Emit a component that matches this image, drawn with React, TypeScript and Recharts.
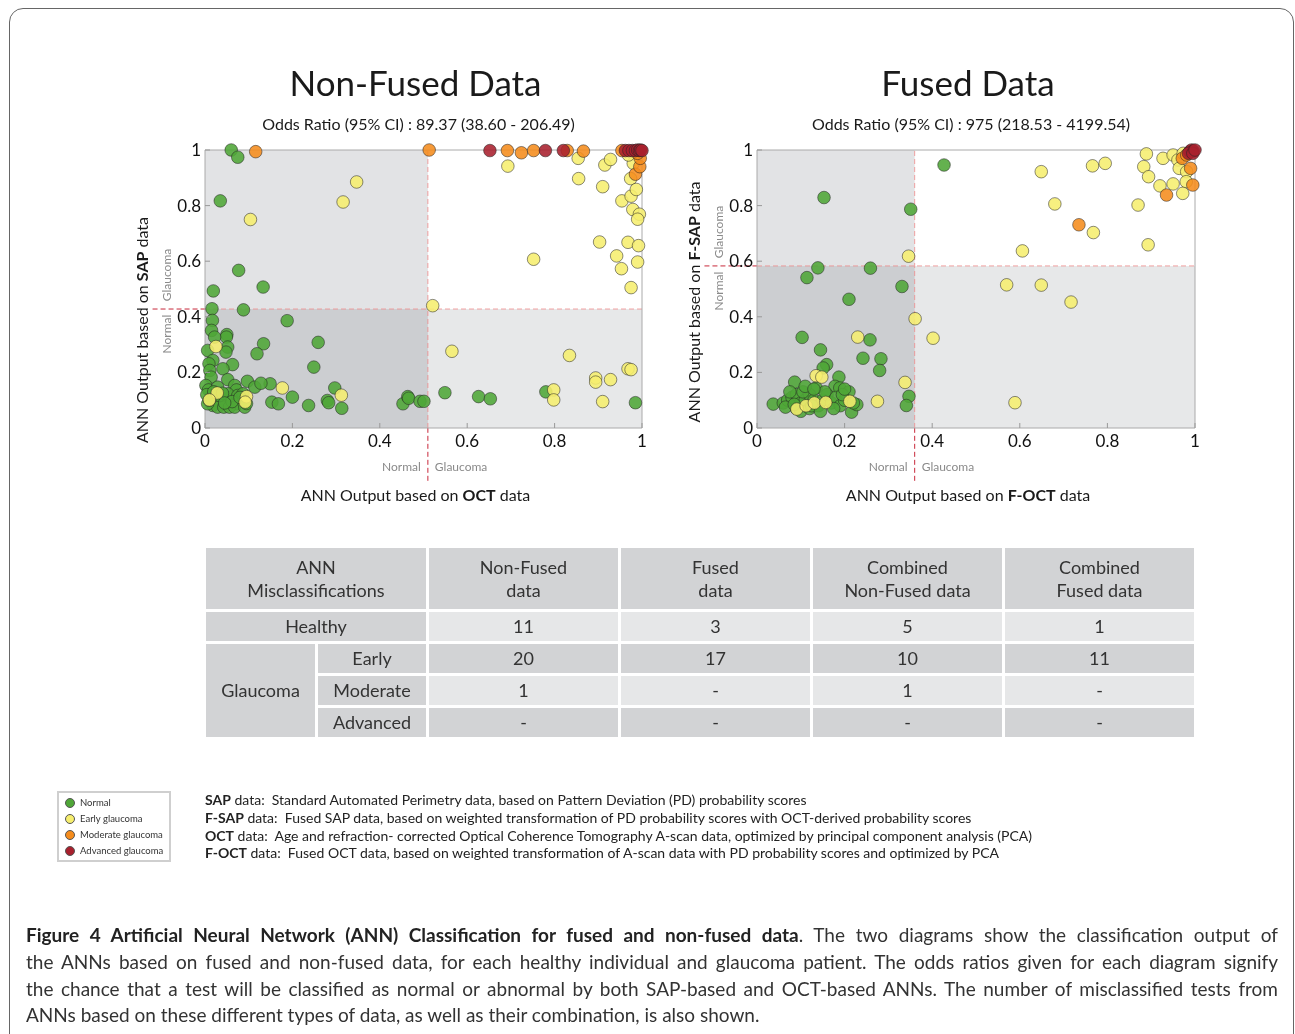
import React from 'react'
import { ReferenceArea, ReferenceLine, Scatter, ScatterChart, XAxis, YAxis } from 'recharts'

const FONT = 'Lato, "Open Sans", sans-serif'

const axisTicks = [0, 0.2, 0.4, 0.6, 0.8, 1]

// cut-offs between "Normal" and "Glaucoma"
const nonFusedCut = { x: 0.51, y: 0.428 }
const fusedCut = { x: 0.36, y: 0.583 }

type Pt = [number, number]

const nonFusedNormal: Pt[] = [
  [0.06, 1.0], [0.075, 0.974], [0.035, 0.817], [0.077, 0.567], [0.133, 0.507], [0.019, 0.493],
  [0.016, 0.429], [0.088, 0.425], [0.017, 0.387], [0.188, 0.386], [0.015, 0.351], [0.05, 0.336],
  [0.049, 0.327], [0.022, 0.327], [0.134, 0.303], [0.259, 0.308], [0.052, 0.291], [0.006, 0.279],
  [0.119, 0.267], [0.048, 0.273], [0.018, 0.243], [0.063, 0.228], [0.009, 0.231], [0.249, 0.219],
  [0.011, 0.207], [0.041, 0.213], [0.014, 0.183], [0.052, 0.174], [0.097, 0.168], [0.114, 0.147],
  [0.149, 0.159], [0.128, 0.161], [0.002, 0.153], [0.008, 0.137], [0.029, 0.147], [0.068, 0.153],
  [0.072, 0.137], [0.014, 0.111], [0.025, 0.099], [0.037, 0.087], [0.049, 0.105], [0.06, 0.111],
  [0.072, 0.087], [0.083, 0.099], [0.018, 0.081], [0.029, 0.075], [0.043, 0.075], [0.056, 0.075],
  [0.068, 0.075], [0.091, 0.075], [0.006, 0.087], [0.033, 0.117], [0.052, 0.123], [0.075, 0.117],
  [0.087, 0.123], [0.004, 0.12], [0.02, 0.13], [0.04, 0.125], [0.062, 0.095], [0.08, 0.11],
  [0.01, 0.1], [0.045, 0.09], [0.095, 0.088], [0.297, 0.144], [0.2, 0.111], [0.153, 0.093],
  [0.168, 0.087], [0.237, 0.081], [0.28, 0.099], [0.283, 0.091], [0.313, 0.071], [0.453, 0.087],
  [0.464, 0.113], [0.466, 0.107], [0.492, 0.096], [0.501, 0.096], [0.549, 0.127], [0.626, 0.113],
  [0.653, 0.105], [0.78, 0.13], [0.985, 0.091],
]
const nonFusedEarly: Pt[] = [
  [0.104, 0.75], [0.347, 0.885], [0.316, 0.813], [0.025, 0.293], [0.028, 0.126], [0.01, 0.101],
  [0.095, 0.113], [0.092, 0.093], [0.177, 0.144], [0.312, 0.118], [0.521, 0.44], [0.565, 0.276],
  [0.834, 0.261], [0.798, 0.137], [0.798, 0.101], [0.894, 0.18], [0.894, 0.165], [0.928, 0.174],
  [0.91, 0.095], [0.968, 0.213], [0.975, 0.21], [0.693, 0.942], [0.752, 0.607], [0.854, 0.97],
  [0.855, 0.897], [0.915, 0.946], [0.928, 0.966], [0.91, 0.868], [0.974, 0.897], [0.954, 0.817],
  [0.975, 0.834], [0.987, 0.858], [0.979, 0.786], [0.994, 0.769], [0.99, 0.751], [0.903, 0.669],
  [0.968, 0.668], [0.992, 0.656], [0.942, 0.619], [0.99, 0.597], [0.953, 0.573], [0.975, 0.505],
  [0.98, 0.952], [0.969, 0.982],
]
const nonFusedModerate: Pt[] = [
  [0.116, 0.994], [0.513, 1.0], [0.692, 0.998], [0.724, 0.99], [0.752, 0.998], [0.829, 0.998],
  [0.866, 0.996], [0.985, 0.913], [0.995, 0.94], [0.996, 0.97], [0.99, 0.988], [0.954, 0.998],
]
const nonFusedAdvanced: Pt[] = [
  [0.652, 0.998], [0.779, 0.998], [0.82, 0.998], [0.962, 0.998], [0.97, 0.998], [0.978, 0.998],
  [0.985, 0.998], [0.99, 1.0], [0.994, 0.998], [0.997, 1.0], [1.0, 0.998],
]

const fusedNormal: Pt[] = [
  [0.427, 0.946], [0.153, 0.829], [0.351, 0.787], [0.139, 0.576], [0.259, 0.575], [0.114, 0.541],
  [0.331, 0.509], [0.21, 0.463], [0.103, 0.326], [0.258, 0.317], [0.145, 0.281], [0.242, 0.251],
  [0.283, 0.249], [0.28, 0.207], [0.159, 0.228], [0.151, 0.216], [0.086, 0.165], [0.187, 0.183],
  [0.135, 0.144], [0.178, 0.15], [0.189, 0.144], [0.347, 0.114], [0.341, 0.081], [0.037, 0.086],
  [0.216, 0.057], [0.228, 0.084], [0.06, 0.09], [0.07, 0.1], [0.08, 0.11], [0.09, 0.12],
  [0.1, 0.09], [0.11, 0.1], [0.12, 0.12], [0.13, 0.1], [0.09, 0.07], [0.1, 0.06], [0.12, 0.07],
  [0.14, 0.08], [0.15, 0.1], [0.16, 0.12], [0.17, 0.09], [0.18, 0.11], [0.19, 0.08], [0.2, 0.1],
  [0.21, 0.13], [0.22, 0.09], [0.065, 0.075], [0.085, 0.085], [0.105, 0.13], [0.125, 0.08],
  [0.145, 0.06], [0.155, 0.13], [0.175, 0.07], [0.195, 0.12], [0.11, 0.15], [0.2, 0.14],
  [0.075, 0.13], [0.13, 0.14],
]
const fusedEarly: Pt[] = [
  [0.889, 0.986], [0.883, 0.94], [0.894, 0.904], [0.927, 0.97], [0.95, 0.982], [0.961, 0.964],
  [0.973, 0.988], [0.964, 0.934], [0.981, 0.922], [0.98, 0.886], [0.92, 0.871], [0.95, 0.878],
  [0.972, 0.844], [0.766, 0.943], [0.795, 0.952], [0.649, 0.922], [0.68, 0.806], [0.87, 0.802],
  [0.768, 0.703], [0.893, 0.659], [0.606, 0.637], [0.346, 0.618], [0.57, 0.515], [0.649, 0.514],
  [0.717, 0.453], [0.361, 0.393], [0.402, 0.323], [0.23, 0.327], [0.135, 0.188], [0.148, 0.183],
  [0.338, 0.164], [0.275, 0.096], [0.589, 0.091], [0.091, 0.068], [0.112, 0.08], [0.131, 0.09],
  [0.157, 0.092], [0.212, 0.096],
]
const fusedModerate: Pt[] = [
  [0.735, 0.731], [0.935, 0.838], [0.995, 0.874], [0.99, 0.934], [0.971, 0.97], [0.981, 0.982],
]
const fusedAdvanced: Pt[] = [
  [0.988, 0.994], [0.992, 1.0], [0.996, 0.996], [0.985, 0.988], [0.995, 0.988], [1.0, 1.0],
]

const groupNames = ['Normal', 'Early glaucoma', 'Moderate glaucoma', 'Advanced glaucoma']
const groupColors = ['#4fa637', '#f6ee6e', '#f58c1c', '#a8202d']

const tableHeaders = ['ANN\nMisclassifications', 'Non-Fused\ndata', 'Fused\ndata', 'Combined\nNon-Fused data', 'Combined\nFused data']
const healthyRow = ['11', '3', '5', '1']
const earlyRow = ['20', '17', '10', '11']
const moderateRow = ['1', '-', '1', '-']
const advancedRow = ['-', '-', '-', '-']

const fmt = (v: number) => (v === 0 ? '0' : v === 1 ? '1' : v.toFixed(1))

const BottomTick = (p: any) => (
  <g>
    <line x1={p.x} x2={p.x} y1={p.y - 4} y2={p.y - 9} stroke="#999" />
    <text x={p.x} y={p.y + 15} textAnchor="middle" fontSize={17} fill="#111" fontFamily={FONT}>
      {fmt(p.payload.value)}
    </text>
  </g>
)
const LeftTick = (p: any) => (
  <g>
    <line x1={p.x + 4} x2={p.x + 9} y1={p.y} y2={p.y} stroke="#999" />
    <text x={p.x} y={p.y + 6} textAnchor="end" fontSize={17} fill="#111" fontFamily={FONT}>
      {fmt(p.payload.value)}
    </text>
  </g>
)
const TopTick = (p: any) => <line x1={p.x} x2={p.x} y1={p.y} y2={p.y + 5} stroke="#999" />
const RightTick = (p: any) => <line x1={p.x} x2={p.x - 5} y1={p.y} y2={p.y} stroke="#999" />

const dot = (color: string) => (p: any) => (
  <circle cx={p.cx} cy={p.cy} r={6.3} fill={color} fillOpacity={0.88} stroke="#222" strokeOpacity={0.65} strokeWidth={0.8} />
)

const Txt = ({ x, y, size, children, color = '#222', weight = 400, rotate = false, align = 'center', pre = false }: any) => {
  const tx = align === 'center' ? '-50%' : align === 'right' ? '-100%' : '0'
  return (
    <div
      style={{
        position: 'absolute',
        left: x,
        top: y,
        fontSize: size,
        color,
        fontWeight: weight,
        whiteSpace: pre ? 'pre' : 'nowrap',
        lineHeight: 1,
        transform: `translate(${tx}, -50%)${rotate ? ' rotate(-90deg)' : ''}`,
        transformOrigin: rotate ? '50% 50%' : undefined,
      }}
    >
      {children}
    </div>
  )
}

interface PlotProps {
  plotLeft: number
  plotWidth: number
  cut: { x: number; y: number }
  series: Pt[][]
}

function Plot({ plotLeft, plotWidth, cut, series }: PlotProps) {
  // plot area: 80 from left, 50 from top, 40 right, 100 bottom (margins + axis sizes)
  const m = { top: 49, right: 39, bottom: 70, left: 50 }
  return (
    <div style={{ position: 'absolute', left: plotLeft - 80, top: 100 }}>
      <ScatterChart width={80 + plotWidth + 40} height={50 + 278 + 100} margin={m}>
        <XAxis
          dataKey="x"
          type="number"
          domain={[0, 1]}
          ticks={axisTicks}
          height={30}
          tickSize={0}
          tickMargin={4}
          tick={BottomTick}
          tickLine={false}
          axisLine={{ stroke: '#aaa' }}
          interval={0}
        />
        <XAxis xAxisId="top" orientation="top" type="number" domain={[0, 1]} ticks={axisTicks} height={1} tickSize={0} tickMargin={0} tick={TopTick} tickLine={false} axisLine={{ stroke: '#aaa' }} interval={0} />
        <YAxis
          dataKey="y"
          type="number"
          domain={[0, 1]}
          ticks={axisTicks}
          width={30}
          tickSize={0}
          tickMargin={4}
          tick={LeftTick}
          tickLine={false}
          axisLine={{ stroke: '#aaa' }}
          interval={0}
        />
        <YAxis yAxisId="right" orientation="right" type="number" domain={[0, 1]} ticks={axisTicks} width={1} tickSize={0} tickMargin={0} tick={RightTick} tickLine={false} axisLine={{ stroke: '#aaa' }} interval={0} />
        {series.map((pts, i) => (
          <Scatter
            key={groupNames[i]}
            name={groupNames[i]}
            data={pts.map(([x, y]) => ({ x, y }))}
            shape={dot(groupColors[i])}
            isAnimationActive={false}
          />
        ))}
        <ReferenceArea className="blend-area" x1={0} x2={cut.x} y1={0} y2={1} fill="#e2e3e5" fillOpacity={1} stroke="none" ifOverflow="visible" />
        <ReferenceArea className="blend-area" x1={0} x2={1} y1={0} y2={cut.y} fill="#e7e8e9" fillOpacity={1} stroke="none" ifOverflow="visible" />
        <ReferenceLine segment={[{ x: 0, y: cut.y }, { x: 1, y: cut.y }]} stroke="#ee8a8a" strokeOpacity={0.8} strokeDasharray="5 3" ifOverflow="visible" />
        <ReferenceLine segment={[{ x: cut.x, y: 0 }, { x: cut.x, y: 1 }]} stroke="#ee8a8a" strokeOpacity={0.8} strokeDasharray="5 3" ifOverflow="visible" />
        <ReferenceLine segment={[{ x: -0.12, y: cut.y }, { x: 0, y: cut.y }]} stroke="#c8283a" strokeDasharray="5 3" ifOverflow="visible" />
        <ReferenceLine segment={[{ x: cut.x, y: -0.19 }, { x: cut.x, y: 0 }]} stroke="#c8283a" strokeDasharray="5 3" ifOverflow="visible" />
      </ScatterChart>
    </div>
  )
}

function Panel({ plotLeft, plotWidth, cut, series, title, odds, xBold, yBold, yLabelY }: any) {
  const cx = plotLeft + plotWidth / 2 - 5
  const cutX = plotLeft + cut.x * plotWidth
  const cutY = 428 - cut.y * 278
  return (
    <>
      <Txt x={cx - 3} y={82} size={35} color="#1a1a1a">{title}</Txt>
      <Txt x={cx} y={124} size={16} color="#1a1a1a">{odds}</Txt>
      <Plot plotLeft={plotLeft} plotWidth={plotWidth} cut={cut} series={series} />
      <Txt x={cx - 3} y={495} size={16} color="#1a1a1a">
        ANN Output based on <b>{xBold}</b> data
      </Txt>
      <Txt x={plotLeft - 63} y={yLabelY} size={16} color="#1a1a1a" rotate>
        ANN Output based on <b>{yBold}</b> data
      </Txt>
      <Txt x={cutX - 7} y={467} size={12} color="#8a8a8a" align="right">Normal</Txt>
      <Txt x={cutX + 7} y={467} size={12} color="#8a8a8a" align="left">Glaucoma</Txt>
      <Txt x={plotLeft - 38} y={cutY + 25} size={12} color="#8a8a8a" rotate>Normal</Txt>
      <Txt x={plotLeft - 38} y={cutY - 34} size={12} color="#8a8a8a" rotate>Glaucoma</Txt>
    </>
  )
}

const DARK = '#d2d3d5'
const LIGHT = '#e6e7e8'

function Cell({ children, bg, col, row, colSpan = 1, rowSpan = 1 }: any) {
  return (
    <div
      style={{
        gridColumn: `${col} / span ${colSpan}`,
        gridRow: `${row} / span ${rowSpan}`,
        background: bg,
        display: 'flex',
        alignItems: 'center',
        justifyContent: 'center',
        textAlign: 'center',
        whiteSpace: 'pre-line',
        lineHeight: '23px',
      }}
    >
      {children}
    </div>
  )
}

function MisclassTable() {
  const valueRows = [healthyRow, earlyRow, moderateRow, advancedRow]
  return (
    <div
      style={{
        position: 'absolute',
        left: 206,
        top: 548,
        display: 'grid',
        gridTemplateColumns: '109px 108px 189px 189px 189px 189px',
        gridTemplateRows: '61px 29px 29px 29px 29px',
        gap: 3,
        fontSize: 18,
        color: '#333',
      }}
    >
      <Cell col={1} row={1} colSpan={2} bg={DARK}>{tableHeaders[0]}</Cell>
      {tableHeaders.slice(1).map((h, i) => (
        <Cell key={h} col={3 + i} row={1} bg={DARK}>{h}</Cell>
      ))}
      <Cell col={1} row={2} colSpan={2} bg={DARK}>Healthy</Cell>
      <Cell col={1} row={3} rowSpan={3} bg={DARK}>Glaucoma</Cell>
      <Cell col={2} row={3} bg={DARK}>Early</Cell>
      <Cell col={2} row={4} bg={DARK}>Moderate</Cell>
      <Cell col={2} row={5} bg={DARK}>Advanced</Cell>
      {valueRows.map((r, ri) =>
        r.map((v, ci) => (
          <Cell key={`${ri}-${ci}`} col={3 + ci} row={2 + ri} bg={ri % 2 === 0 ? LIGHT : DARK}>{v}</Cell>
        ))
      )}
    </div>
  )
}

const abbreviations = [
  ['SAP', ' data:  Standard Automated Perimetry data, based on Pattern Deviation (PD) probability scores'],
  ['F-SAP', ' data:  Fused SAP data, based on weighted transformation of PD probability scores with OCT-derived probability scores'],
  ['OCT', ' data:  Age and refraction- corrected Optical Coherence Tomography A-scan data, optimized by principal component analysis (PCA)'],
  ['F-OCT', ' data:  Fused OCT data, based on weighted transformation of A-scan data with PD probability scores and optimized by PCA'],
]
const abbrevY = [800, 818, 836, 853]

const captionLines = [
  '. The two diagrams show the classification output of',
  'the ANNs based on fused and non-fused data, for each healthy individual and glaucoma patient. The odds ratios given for each diagram signify',
  'the chance that a test will be classified as normal or abnormal by both SAP-based and OCT-based ANNs. The number of misclassified tests from',
  'ANNs based on these different types of data, as well as their combination, is also shown.',
]
const captionY = [935, 962, 989, 1015]

export default function App() {
  return (
    <div
      style={{
        position: 'absolute',
        left: 0,
        top: 0,
        width: 1295,
        height: 1034,
        overflow: 'hidden',
        background: '#fff',
        fontFamily: FONT,
      }}
    >
      <style>{'.blend-area { mix-blend-mode: multiply; }'}</style>
      <div
        style={{
          position: 'absolute',
          left: 9,
          top: 8,
          width: 1285,
          height: 1060,
          border: '1.5px solid #666',
          borderRadius: 14,
          boxSizing: 'border-box',
        }}
      />
      <Panel
        plotLeft={205}
        plotWidth={437}
        cut={nonFusedCut}
        series={[nonFusedNormal, nonFusedEarly, nonFusedModerate, nonFusedAdvanced]}
        title="Non-Fused Data"
        odds="Odds Ratio (95% CI) : 89.37 (38.60 - 206.49)"
        xBold="OCT"
        yBold="SAP"
        yLabelY={330}
      />
      <Panel
        plotLeft={757}
        plotWidth={438}
        cut={fusedCut}
        series={[fusedNormal, fusedEarly, fusedModerate, fusedAdvanced]}
        title="Fused Data"
        odds="Odds Ratio (95% CI) : 975 (218.53 - 4199.54)"
        xBold="F-OCT"
        yBold="F-SAP"
        yLabelY={302}
      />
      <MisclassTable />

      <div
        style={{
          position: 'absolute',
          left: 57,
          top: 791,
          width: 114,
          height: 71,
          border: '2px solid #cfcfcf',
          boxSizing: 'border-box',
        }}
      />
      {groupNames.map((g, i) => (
        <React.Fragment key={g}>
          <div
            style={{
              position: 'absolute',
              left: 65,
              top: 798 + i * 16,
              width: 10,
              height: 10,
              borderRadius: '50%',
              background: groupColors[i],
              border: '0.8px solid #555',
              boxSizing: 'border-box',
            }}
          />
          <Txt x={80} y={803 + i * 16} size={9.5} color="#333" align="left">{g}</Txt>
        </React.Fragment>
      ))}

      {abbreviations.map(([b, rest], i) => (
        <Txt key={b} x={205} y={abbrevY[i]} size={14} color="#222" align="left" pre>
          <b>{b}</b>{rest}
        </Txt>
      ))}

      {captionLines.map((line, i) => (
        <div
          key={i}
          style={{
            position: 'absolute',
            left: 26,
            top: captionY[i] - 12,
            width: 1252,
            fontSize: 19,
            lineHeight: '24px',
            color: '#333',
            whiteSpace: 'nowrap',
            textAlign: i < 3 ? 'justify' : 'left',
            textAlignLast: i < 3 ? 'justify' : 'left',
          }}
        >
          {i === 0 && <b style={{ color: '#222' }}>Figure 4 Artificial Neural Network (ANN) Classification for fused and non-fused data</b>}
          {line}
        </div>
      ))}
    </div>
  )
}
